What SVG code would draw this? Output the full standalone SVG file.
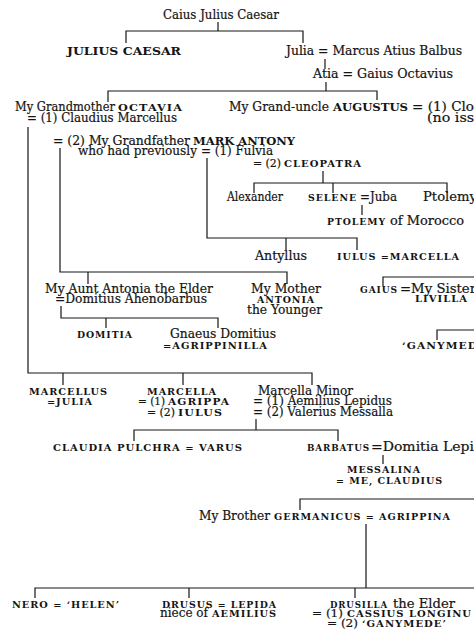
<svg xmlns="http://www.w3.org/2000/svg" width="474" height="635" viewBox="0 0 474 635">
<style>
text{font-family:"DejaVu Serif","Liberation Serif",serif;fill:#141414}
.r{font-size:12.3px;stroke:#141414;stroke-width:0.2}
.p{font-size:11.5px;stroke:#141414;stroke-width:0.2}
.s{font-size:10px;font-weight:bold;letter-spacing:1px}
.b{font-size:11px;font-weight:bold}
#connectors path{stroke:#161616;stroke-width:1.2;fill:none}
</style>
<rect width="474" height="635" fill="#ffffff"/>
<g id="connectors">
<path d="M218 22V31M126 43V31H303V43"/>
<path d="M325 59V69"/>
<path d="M326 82V91M108 102V91H377V100"/>
<path d="M28 127V373H312V385M63 373V385M183 373V385"/>
<path d="M60 148V272H287V284M88 272V284"/>
<path d="M207 158V238H357V250M286 238V250"/>
<path d="M323 171V183M254 193V183H447V193M333 183V193"/>
<path d="M362 205V215"/>
<path d="M383 286V277H474"/>
<path d="M61 306V318H218V328M106 318V328"/>
<path d="M437 340V330H474"/>
<path d="M256 419V430M134 441V430H338V441"/>
<path d="M383 455V464"/>
<path d="M300 510V499H474"/>
<path d="M366 524V588M35 598V588H474M189 588V598M355 588V598"/>
</g>
<g id="caius"><text class="r" x="163" y="19" textLength="116" lengthAdjust="spacingAndGlyphs">Caius Julius Caesar</text></g>
<g id="julius-caesar"><text class="b" x="67" y="55" textLength="114" lengthAdjust="spacingAndGlyphs">JULIUS CAESAR</text></g>
<g id="julia"><text class="r" x="286" y="55" textLength="176" lengthAdjust="spacingAndGlyphs">Julia = Marcus Atius Balbus</text></g>
<g id="atia"><text class="r" x="313" y="78" textLength="140" lengthAdjust="spacingAndGlyphs">Atia = Gaius Octavius</text></g>
<g id="octavia">
<text class="r" x="15" y="111" textLength="100" lengthAdjust="spacingAndGlyphs">My Grandmother</text>
<text class="s" x="118" y="111" textLength="65" lengthAdjust="spacingAndGlyphs">OCTAVIA</text>
<text class="r" x="27" y="122" textLength="150" lengthAdjust="spacingAndGlyphs">= (1) Claudius Marcellus</text>
</g>
<g id="augustus">
<text class="r" x="229" y="111" textLength="100" lengthAdjust="spacingAndGlyphs">My Grand-uncle</text>
<text class="b" x="333" y="111" textLength="75" lengthAdjust="spacingAndGlyphs">AUGUSTUS</text>
<text class="r" x="412" y="111" textLength="62" lengthAdjust="spacingAndGlyphs">= (1) Clo</text>
<text class="r" x="427" y="122" textLength="47" lengthAdjust="spacingAndGlyphs">(no iss</text>
</g>
<g id="mark-antony">
<text class="r" x="53" y="145" textLength="137" lengthAdjust="spacingAndGlyphs">= (2) My Grandfather</text>
<text class="b" x="193" y="145" textLength="102" lengthAdjust="spacingAndGlyphs">MARK ANTONY</text>
<text class="r" x="78" y="155" textLength="119" lengthAdjust="spacingAndGlyphs">who had previously</text>
<text class="r" x="201" y="155" textLength="72" lengthAdjust="spacingAndGlyphs">= (1) Fulvia</text>
<text class="p" x="253" y="167" textLength="28" lengthAdjust="spacingAndGlyphs">= (2)</text>
<text class="s" x="284" y="167" textLength="78" lengthAdjust="spacingAndGlyphs">CLEOPATRA</text>
</g>
<g id="alexander"><text class="r" x="227" y="201" textLength="56" lengthAdjust="spacingAndGlyphs">Alexander</text></g>
<g id="selene">
<text class="s" x="308" y="201" textLength="49" lengthAdjust="spacingAndGlyphs">SELENE</text>
<text class="r" x="360" y="201" textLength="37" lengthAdjust="spacingAndGlyphs">=Juba</text>
</g>
<g id="ptolemy"><text class="r" x="423" y="201" textLength="54" lengthAdjust="spacingAndGlyphs">Ptolemy</text></g>
<g id="ptolemy-morocco">
<text class="s" x="327" y="225" textLength="59" lengthAdjust="spacingAndGlyphs">PTOLEMY</text>
<text class="r" x="390" y="225" textLength="74" lengthAdjust="spacingAndGlyphs">of Morocco</text>
</g>
<g id="antyllus"><text class="r" x="255" y="260" textLength="52" lengthAdjust="spacingAndGlyphs">Antyllus</text></g>
<g id="iulus"><text class="s" x="337" y="260" textLength="123" lengthAdjust="spacingAndGlyphs">IULUS =MARCELLA</text></g>
<g id="antonia-elder">
<text class="r" x="45" y="293" textLength="168" lengthAdjust="spacingAndGlyphs">My Aunt Antonia the Elder</text>
<text class="r" x="55" y="303" textLength="152" lengthAdjust="spacingAndGlyphs">=Domitius Ahenobarbus</text>
</g>
<g id="antonia-younger">
<text class="r" x="251" y="293" textLength="70" lengthAdjust="spacingAndGlyphs">My Mother</text>
<text class="s" x="257" y="303" textLength="58" lengthAdjust="spacingAndGlyphs">ANTONIA</text>
<text class="r" x="247" y="314" textLength="75" lengthAdjust="spacingAndGlyphs">the Younger</text>
</g>
<g id="gaius">
<text class="s" x="360" y="293" textLength="38" lengthAdjust="spacingAndGlyphs">GAIUS</text>
<text class="r" x="400" y="293" textLength="76" lengthAdjust="spacingAndGlyphs">=My Sister</text>
<text class="s" x="415" y="302" textLength="53" lengthAdjust="spacingAndGlyphs">LIVILLA</text>
</g>
<g id="domitia"><text class="s" x="77" y="338" textLength="56" lengthAdjust="spacingAndGlyphs">DOMITIA</text></g>
<g id="gnaeus">
<text class="r" x="170" y="338" textLength="106" lengthAdjust="spacingAndGlyphs">Gnaeus Domitius</text>
<text class="s" x="163" y="349" textLength="105" lengthAdjust="spacingAndGlyphs">=AGRIPPINILLA</text>
</g>
<g id="ganymede-right"><text class="s" x="402" y="349" textLength="76" lengthAdjust="spacingAndGlyphs">‘GANYMED</text></g>
<g id="marcellus">
<text class="s" x="29" y="395" textLength="79" lengthAdjust="spacingAndGlyphs">MARCELLUS</text>
<text class="s" x="47" y="405" textLength="46" lengthAdjust="spacingAndGlyphs">=JULIA</text>
</g>
<g id="marcella">
<text class="s" x="147" y="395" textLength="70" lengthAdjust="spacingAndGlyphs">MARCELLA</text>
<text class="p" x="138" y="405" textLength="27" lengthAdjust="spacingAndGlyphs">= (1)</text>
<text class="s" x="168" y="405" textLength="62" lengthAdjust="spacingAndGlyphs">AGRIPPA</text>
<text class="p" x="147" y="416" textLength="28" lengthAdjust="spacingAndGlyphs">= (2)</text>
<text class="s" x="178" y="416" textLength="45" lengthAdjust="spacingAndGlyphs">IULUS</text>
</g>
<g id="marcella-minor">
<text class="r" x="258" y="395" textLength="95" lengthAdjust="spacingAndGlyphs">Marcella Minor</text>
<text class="r" x="253" y="405" textLength="139" lengthAdjust="spacingAndGlyphs">= (1) Aemilius Lepidus</text>
<text class="r" x="253" y="416" textLength="140" lengthAdjust="spacingAndGlyphs">= (2) Valerius Messalla</text>
</g>
<g id="claudia-pulchra"><text class="s" x="53" y="451" textLength="190" lengthAdjust="spacingAndGlyphs">CLAUDIA PULCHRA = VARUS</text></g>
<g id="barbatus">
<text class="s" x="307" y="451" textLength="63" lengthAdjust="spacingAndGlyphs">BARBATUS</text>
<text class="r" x="371" y="451" textLength="103" lengthAdjust="spacingAndGlyphs">=Domitia Lepi</text>
</g>
<g id="messalina">
<text class="s" x="347" y="473" textLength="74" lengthAdjust="spacingAndGlyphs">MESSALINA</text>
<text class="s" x="336" y="484" textLength="107" lengthAdjust="spacingAndGlyphs">= ME, CLAUDIUS</text>
</g>
<g id="germanicus">
<text class="r" x="199" y="520" textLength="71" lengthAdjust="spacingAndGlyphs">My Brother</text>
<text class="s" x="274" y="520" textLength="177" lengthAdjust="spacingAndGlyphs">GERMANICUS = AGRIPPINA</text>
</g>
<g id="nero"><text class="s" x="12" y="608" textLength="108" lengthAdjust="spacingAndGlyphs">NERO = ‘HELEN’</text></g>
<g id="drusus">
<text class="s" x="162" y="608" textLength="115" lengthAdjust="spacingAndGlyphs">DRUSUS = LEPIDA</text>
<text class="r" x="160" y="617" textLength="48" lengthAdjust="spacingAndGlyphs">niece of</text>
<text class="s" x="212" y="617" textLength="65" lengthAdjust="spacingAndGlyphs">AEMILIUS</text>
</g>
<g id="drusilla">
<text class="s" x="330" y="608" textLength="58" lengthAdjust="spacingAndGlyphs">DRUSILLA</text>
<text class="r" x="393" y="608" textLength="62" lengthAdjust="spacingAndGlyphs">the Elder</text>
<text class="p" x="312" y="617" textLength="31" lengthAdjust="spacingAndGlyphs">= (1)</text>
<text class="s" x="347" y="617" textLength="125" lengthAdjust="spacingAndGlyphs">CASSIUS LONGINU</text>
<text class="p" x="327" y="627" textLength="31" lengthAdjust="spacingAndGlyphs">= (2)</text>
<text class="s" x="362" y="627" textLength="85" lengthAdjust="spacingAndGlyphs">‘GANYMEDE’</text>
</g>
</svg>
